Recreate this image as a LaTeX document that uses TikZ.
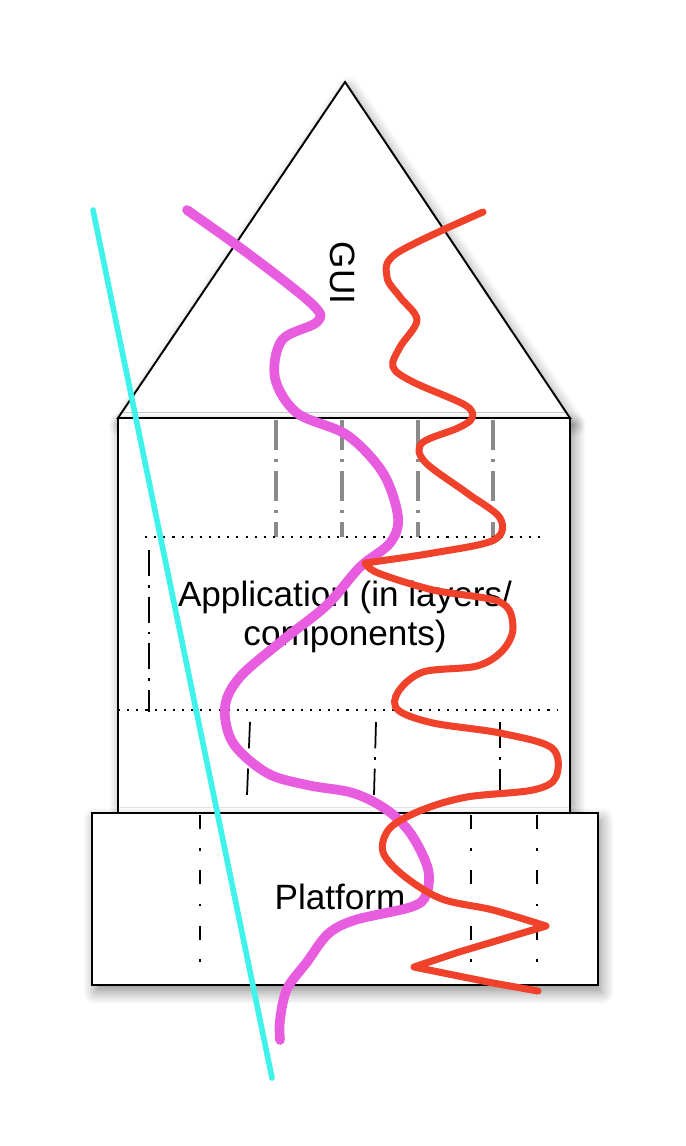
\documentclass[tikz,border=0pt]{standalone}
\usepackage{fontspec}
\setmainfont{Liberation Sans}
\usetikzlibrary{shadows.blur}
\definecolor{magc}{HTML}{E85DE0}
\definecolor{redc}{HTML}{F0412B}
\definecolor{cyanc}{HTML}{3FF2EA}
\definecolor{ddg}{HTML}{8A8A8A}
\tikzset{
  shp/.style={draw=black,line width=1.1pt,fill=white,blur shadow={shadow xshift=2pt,shadow yshift=-4pt,shadow blur radius=7pt,shadow blur steps=8,shadow opacity=45}},
  ddgray/.style={ddg,line width=1.8pt,dash pattern=on 17pt off 5pt on 2pt off 5pt},
  ddblk/.style={black,line width=1pt,dash pattern=on 15pt off 5pt on 1.5pt off 5pt},
  ddwide/.style={black,line width=1pt,dash pattern=on 8pt off 11pt on 1.5pt off 11pt},
  dotl/.style={black,line width=1pt,dash pattern=on 1.2pt off 4pt},
  lbl/.style={font=\fontsize{20}{22}\selectfont,align=center,inner sep=0pt},
  crv/.style={line cap=round,line join=round}
}

\begin{document}
\begin{tikzpicture}[x=0.02cm,y=-0.02cm]
\useasboundingbox (0,0) rectangle (686,1146);
% house: roof, body, base
\draw[shp] (118,418) -- (345,82) -- (570,418) -- cycle;
\draw[shp] (118,418) rectangle (570,813);
\draw[shp] (92,813) rectangle (598,985);
% partitions
\foreach \x in {276,342,418,493} \draw[ddgray] (\x,420) -- (\x,537);
\draw[dotl] (145,537) -- (542,537);
\draw[dotl] (118,710) -- (558,710);
\draw[ddblk] (149,550) -- (149,712);
\foreach \a/\b in {250/247,376/374,500/500} \draw[ddblk] (\a,722) -- (\b,795);
\foreach \x in {200,471,537} \draw[ddwide] (\x,815) -- (\x,980);
% labels
\node[lbl,rotate=-90] (gui) at (343,273) {GUI};
\node[lbl] (app) at (345,617) {Application (in layers/\\components)};
\node[lbl] (plat) at (340,897) {Platform};
% cuts
\draw[crv,magc,line width=5.5pt] plot[smooth,tension=0.55] coordinates {(187,210) (250,255) (313,305) (317,322) (282,340) (275,378) (297,413) (347,435) (383,473) (398,517) (390,543) (360,567) (327,605) (283,640) (240,677) (225,707) (233,743) (267,773) (307,785) (353,793) (387,810) (411,834) (428,869) (426,895) (411,907) (355,920) (328,934) (307,962) (287,989) (280,1020) (280,1040)};
\draw[crv,redc,line width=4pt] plot[smooth,tension=0.55] coordinates {(483,212) (397,253) (387,277) (400,297) (417,320) (400,347) (393,367) (413,382) (465,405) (472,418) (458,428) (422,443) (425,462) (467,493) (500,518) (494,540) (433,553) (365,563)}
  -- plot[smooth,tension=0.55] coordinates {(365,563) (378,573) (433,590) (500,602) (513,627) (503,650) (477,666) (423,672) (398,692) (398,710) (433,723) (500,733) (552,748) (556,777) (533,790) (467,797) (422,810) (390,828) (383,852) (404,876) (442,899) (493,910) (546,926)}
  -- (459,952) -- (414,967) -- (493,983) -- (538,991);
\draw[crv,cyanc,line width=3.2pt] (93,210) -- (272,1078);
\end{tikzpicture}
\end{document}
